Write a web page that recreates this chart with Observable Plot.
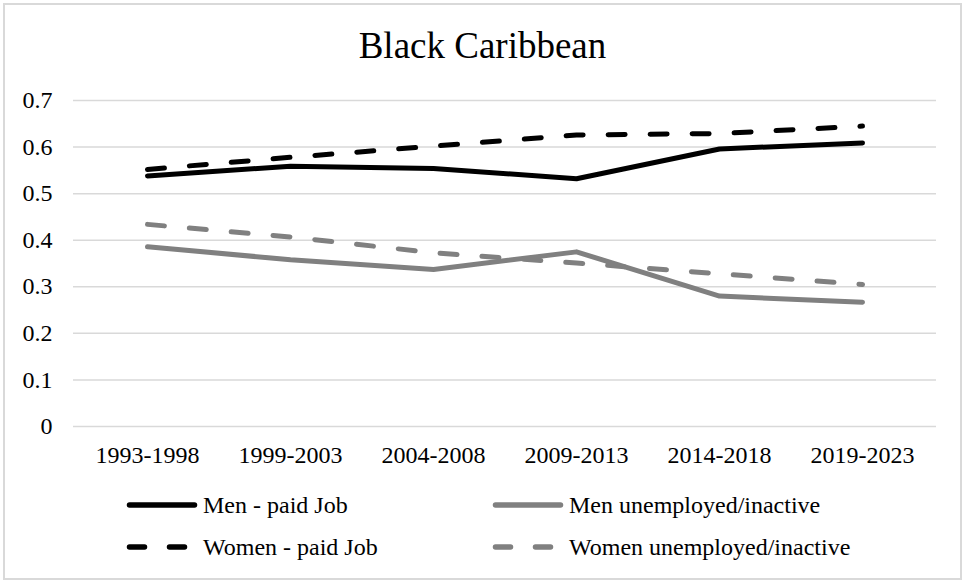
<!DOCTYPE html>
<html>
<head>
<meta charset="utf-8">
<script src="https://cdn.jsdelivr.net/npm/d3@7"></script>
<script src="https://cdn.jsdelivr.net/npm/@observablehq/plot@0.6"></script>
<style>
  html, body { margin: 0; padding: 0; background: #fff; }
  #chart { position: relative; width: 965px; height: 584px; font-family: "Liberation Serif", "Times New Roman", serif; }
  #frame { position: absolute; left: 3px; top: 3px; width: 959px; height: 577px; border: 2px solid #d9d9d9; box-sizing: border-box; }
  #title { position: absolute; left: 0; width: 965px; top: 23px; text-align: center; font-size: 37px; line-height: 45px; color: #000; }
  #plot { position: absolute; left: 0; top: 0; }
  #legend { position: absolute; left: 0; top: 480px; }
</style>
</head>
<body>
<div id="chart">
  <div id="frame"></div>
  <div id="title">Black Caribbean</div>
  <div id="plot"></div>
  <div id="legend"></div>
</div>
<script>
const periods = ["1993-1998", "1999-2003", "2004-2008", "2009-2013", "2014-2018", "2019-2023"];
const seriesNames = ["Men - paid Job", "Men unemployed/inactive", "Women - paid Job", "Women unemployed/inactive"];
const menPaid = [0.538, 0.559, 0.554, 0.532, 0.596, 0.609];
const menUnemployed = [0.386, 0.358, 0.337, 0.375, 0.280, 0.267];
const womenPaid = [0.552, 0.578, 0.602, 0.626, 0.629, 0.645];
const womenUnemployed = [0.434, 0.407, 0.373, 0.351, 0.328, 0.305];
const yTicks = [0, 0.1, 0.2, 0.3, 0.4, 0.5, 0.6, 0.7];

const styles = {
  "Men - paid Job": {color: "#000000", dash: null},
  "Men unemployed/inactive": {color: "#808080", dash: null},
  "Women - paid Job": {color: "#000000", dash: "17 25"},
  "Women unemployed/inactive": {color: "#808080", dash: "17 25"}
};
const seriesValues = [menPaid, menUnemployed, womenPaid, womenUnemployed];
const rows = seriesNames.flatMap((name, i) => periods.map((p, j) => ({series: name, period: p, value: seriesValues[i][j]})));

const lineMarks = seriesNames.map(name => Plot.line(rows.filter(d => d.series === name), {
  x: "period", y: "value",
  stroke: styles[name].color,
  strokeWidth: 5,
  strokeDasharray: styles[name].dash,
  strokeLinecap: "round",
  strokeLinejoin: "round"
}));

const chart = Plot.plot({
  width: 965,
  height: 480,
  marginTop: 100,
  marginBottom: 54,
  marginLeft: 73,
  marginRight: 29,
  style: {fontFamily: "'Liberation Serif', 'Times New Roman', serif", fontSize: "24px", color: "#000", background: "transparent", overflow: "visible"},
  x: {type: "point", domain: periods, padding: 0.5, label: null, tickSize: 0, tickPadding: 19},
  y: {domain: [0, 0.7], ticks: yTicks, tickFormat: d => d3.format("")(d), label: null, tickSize: 0, tickPadding: 21},
  marks: [
    Plot.gridY(yTicks, {stroke: "#d9d9d9", strokeOpacity: 1, strokeWidth: 1.5}),
    ...lineMarks
  ]
});
document.getElementById("plot").appendChild(chart);

// Legend
const legendEntries = [
  {name: seriesNames[0], x: 127, y: 505},
  {name: seriesNames[1], x: 493, y: 505},
  {name: seriesNames[2], x: 127, y: 547},
  {name: seriesNames[3], x: 493, y: 547}
];
const lsvg = d3.create("svg").attr("width", 965).attr("height", 100)
  .style("font-family", "'Liberation Serif', 'Times New Roman', serif").style("font-size", "24px");
for (const e of legendEntries) {
  const st = styles[e.name];
  const yy = e.y - 480;
  lsvg.append("line").attr("x1", e.x + 2.5).attr("x2", e.x + 67.5).attr("y1", yy).attr("y2", yy)
    .attr("stroke", st.color).attr("stroke-width", 5.5).attr("stroke-linecap", "round")
    .attr("stroke-dasharray", st.dash ? "15 25" : null);
  lsvg.append("text").attr("x", e.x + 76).attr("y", yy).attr("dy", "0.32em").attr("fill", "#000").text(e.name);
}
document.getElementById("legend").appendChild(lsvg.node());
</script>
</body>
</html>
